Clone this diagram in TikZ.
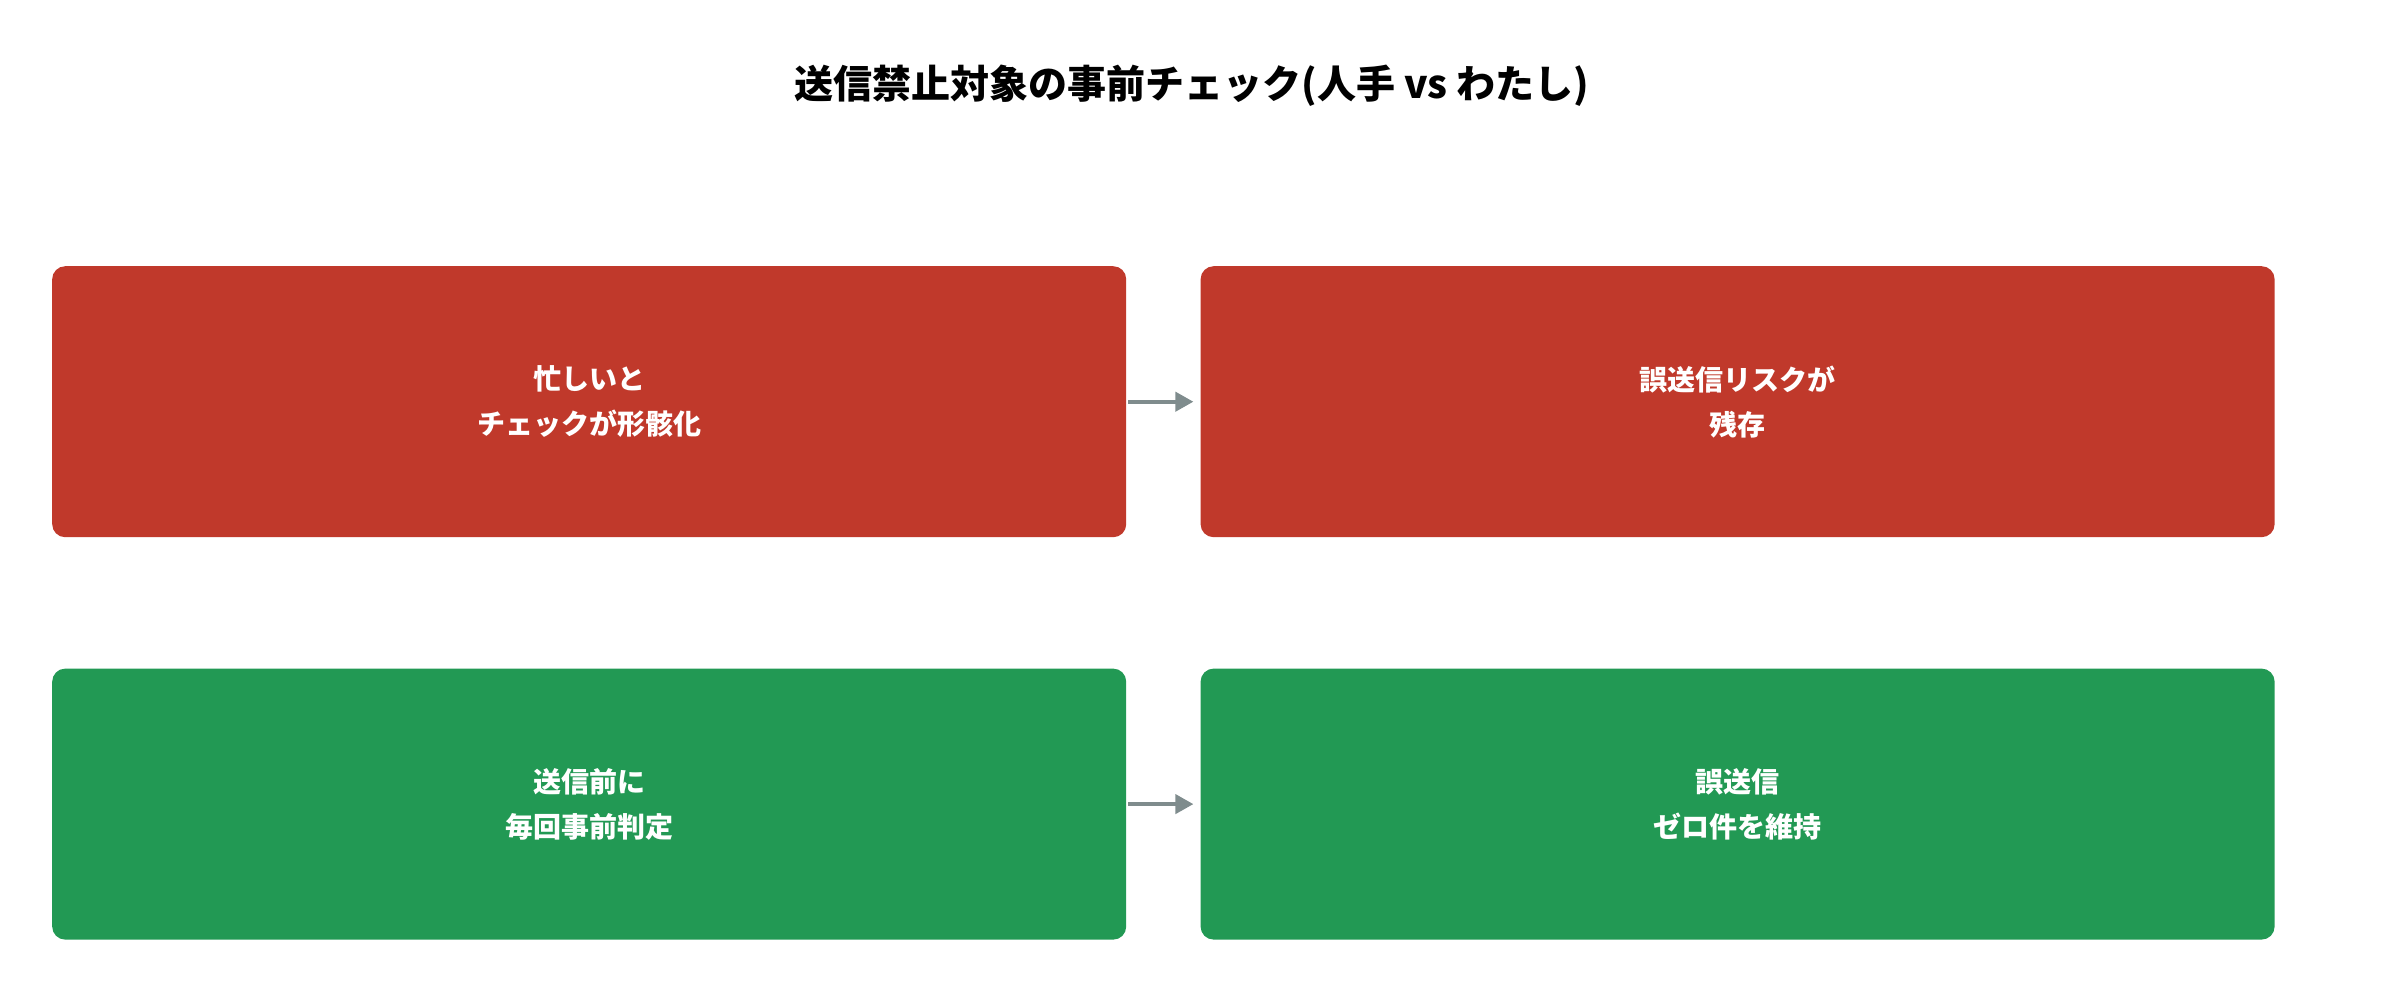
\documentclass[tikz,border=0pt]{standalone}
\usepackage{fontspec}
\usepackage{xcolor}
\usepackage{tikz}
\usetikzlibrary{arrows.meta,positioning}
\newfontfamily\jpfont{Noto Sans CJK JP}
\definecolor{ngred}{HTML}{C0392B}
\definecolor{okgreen}{HTML}{229954}
\definecolor{flgray}{HTML}{7F8C8D}

\begin{document}
\begin{tikzpicture}[
  x=1pt,y=-1pt,
  node distance=74pt and 74pt,
  caja/.style={rounded corners=13pt,align=center,inner sep=0pt,
               minimum width=1074pt,minimum height=271pt,text=white,
               font=\jpfont\bfseries\fontsize{28}{45}\selectfont},
  mal/.style={caja,fill=ngred},
  bien/.style={caja,fill=okgreen},
  fl/.style={-{Triangle[length=18pt,width=19pt]},line width=4pt,draw=flgray,
             shorten <=2pt,shorten >=7pt}]
  \useasboundingbox (0,0) rectangle (2385,1005);
  \node[font=\jpfont\bfseries\fontsize{39}{46}\selectfont] (tit) at (1192,86)
    {送信禁止対象の事前チェック(人手 vs わたし)};
  \node[mal,anchor=north west] (a) at (52,266) {忙しいと\\チェックが形骸化};
  \node[mal,right=of a] (b) {誤送信リスクが\\残存};
  \node[bien,below=131pt of a] (c) {送信前に\\毎回事前判定};
  \node[bien,right=of c] (d) {誤送信\\ゼロ件を維持};
  \draw[fl] (a)--(b); \draw[fl] (c)--(d);
\end{tikzpicture}
\end{document}
